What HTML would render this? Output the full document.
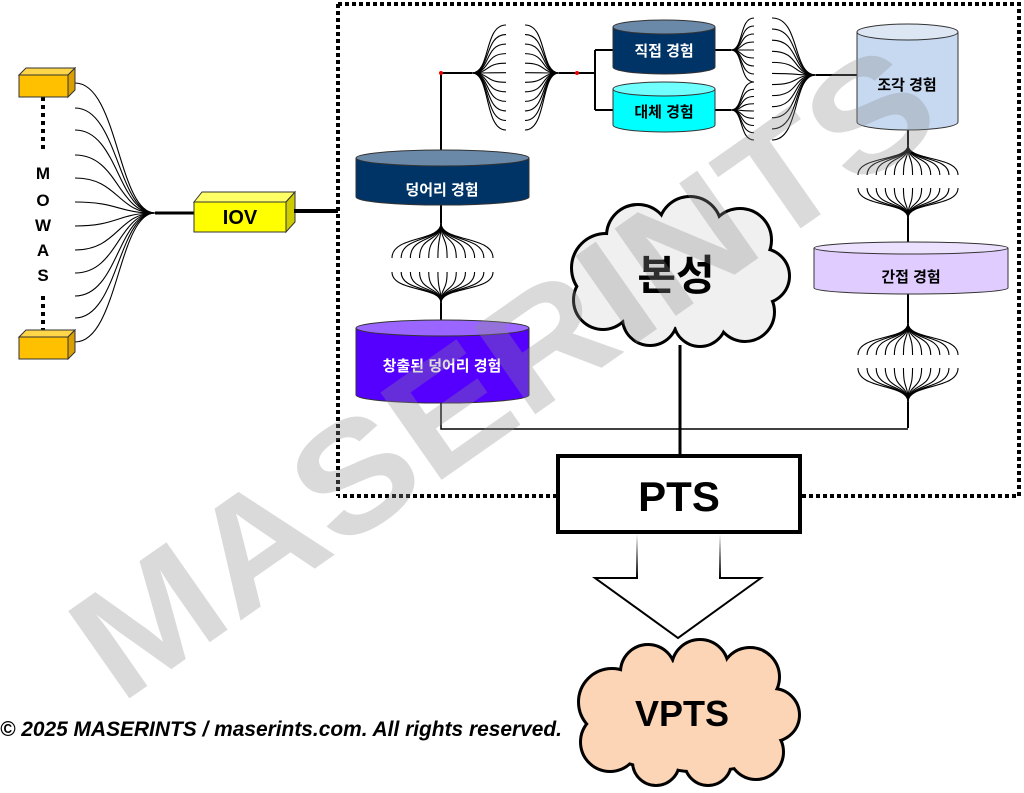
<!DOCTYPE html>
<html><head><meta charset="utf-8"><style>
html,body{margin:0;padding:0;background:#fff;}
svg{display:block;}
text{font-family:"Liberation Sans","Noto Sans CJK KR",sans-serif;font-weight:bold;}
</style></head><body>
<svg id="s" width="1024" height="793" viewBox="0 0 1024 793" xmlns="http://www.w3.org/2000/svg">
<path d="M338 4 H1019 V496 H800 M557 496 H338 Z" fill="none" stroke="#000" stroke-width="4" stroke-dasharray="4 3"/>
<path d="M338 4 V496" stroke="#000" stroke-width="4" stroke-dasharray="4 3"/>
<g id="fans" fill="none" stroke="#000" stroke-width="1.1"></g>

<path d="M43 97 V150 M43 296 V334" stroke="#000" stroke-width="4" stroke-dasharray="4 4"/>
<g font-size="17" text-anchor="middle" fill="#000">
<text x="43" y="179">M</text><text x="43" y="206">O</text><text x="43" y="231">W</text><text x="43" y="256">A</text><text x="43" y="281">S</text>
</g>
<g stroke="#333" stroke-width="1">
<polygon points="19,75 26,68 75,68 68,75" fill="#ffd54a"/>
<polygon points="68,75 75,68 75,90 68,97" fill="#d9a000"/>
<rect x="19" y="75" width="49" height="22" fill="#ffc000"/>
<polygon points="19,337 26,330 75,330 68,337" fill="#ffd54a"/>
<polygon points="68,337 75,330 75,352 68,359" fill="#d9a000"/>
<rect x="19" y="337" width="49" height="22" fill="#ffc000"/>
</g>
<path d="M155 213 H195" stroke="#000" stroke-width="3"/>
<g stroke="#333" stroke-width="1">
<polygon points="194,202 202,192 295,192 286,202" fill="#ffff66"/>
<polygon points="286,202 295,192 295,222 286,232" fill="#cccc00"/>
<rect x="194" y="202" width="92" height="30" fill="#ffff00"/>
</g>
<text x="240" y="224" font-size="20" text-anchor="middle">IOV</text>
<path d="M294 211 H338" stroke="#000" stroke-width="4"/>

<g fill="none" stroke="#000" stroke-width="2">
<path d="M441 158 V73 H472"/>
<path d="M559 73 H595 M595 50 V110 M595 50 H613 M595 110 H613"/>
<path d="M715 50 H731 M715 110 H731 M816 75 H857"/>
<path d="M441 205 V223 M441 303 V328 M908 130 V145 M908 218 V248 M908 292 V323 M908 402 V428"/>
<path d="M441 402 V429 H908" stroke-width="1.5"/>
</g>
<circle cx="441" cy="73" r="2" fill="#e00"/><circle cx="577" cy="73" r="2" fill="#e00"/>

<g stroke="#333" stroke-width="1">
<path d="M356 158 V197 A86 8 0 0 0 529 197 V158" fill="#003366"/>
<ellipse cx="442.5" cy="158" rx="86.5" ry="8" fill="#6a88a8"/>
<path d="M356 328 V395 A86 8 0 0 0 529 395 V328" fill="#5500ff"/>
<ellipse cx="442.5" cy="328" rx="86.5" ry="8" fill="#9a66ff"/>
<path d="M613 27 V67 A51 7 0 0 0 715 67 V27" fill="#003366"/>
<ellipse cx="664" cy="27" rx="51" ry="7" fill="#6a88a8"/>
<path d="M613 89 V125 A51 7 0 0 0 715 125 V89" fill="#00ffff"/>
<ellipse cx="664" cy="89" rx="51" ry="7" fill="#70ffff"/>
<path d="M857 32 V122 A50.5 8 0 0 0 958 122 V32" fill="#c6d9f1"/>
<ellipse cx="907.5" cy="32" rx="50.5" ry="8" fill="#dde7f4"/>
<path d="M814 248 V288 A97 6 0 0 0 1008 288 V248" fill="#e0ccff"/>
<ellipse cx="911" cy="248" rx="97" ry="6" fill="#ece0ff"/>
</g>
<g font-size="15" text-anchor="middle">
<text x="442" y="195" fill="#fff">덩어리 경험</text>
<text x="442" y="371" fill="#fff">창출된 덩어리 경험</text>
<text x="664" y="56" fill="#fff">직접 경험</text>
<text x="664" y="117" fill="#000">대체 경험</text>
<text x="907" y="90" fill="#000">조각 경험</text>
<text x="911" y="282" fill="#000">간접 경험</text>
</g>

<g id="c1"></g>
<text x="676" y="290" font-size="42" text-anchor="middle">본성</text>
<path d="M680 345 V456" stroke="#000" stroke-width="3"/>

<rect x="558" y="456" width="242" height="76" fill="#fff" stroke="#000" stroke-width="4"/>
<text x="679" y="511" font-size="42" text-anchor="middle">PTS</text>
<defs><linearGradient id="g" x1="0" y1="0" x2="0" y2="1"><stop offset="0" stop-color="#fff"/><stop offset="1" stop-color="#000"/></linearGradient></defs>
<path d="M637 534 V578 H595 L678 638 L761 578 H720 V534" fill="#fff" stroke="#000" stroke-width="2"/>
<path d="M637 534 V578 M720 534 V578" stroke="url(#g)" stroke-width="2"/>

<g id="c2"></g>
<text x="682" y="726" font-size="36" text-anchor="middle">VPTS</text>

<text x="0" y="736" font-size="21" font-style="italic" textLength="562" lengthAdjust="spacingAndGlyphs">© 2025 MASERINTS / maserints.com. All rights reserved.</text>

<text x="0" y="0" font-size="155" fill="rgba(140,140,140,0.32)" transform="translate(120,705) rotate(-35)" textLength="1010" lengthAdjust="spacingAndGlyphs">MASERINTS</text>
</svg>
<script>
var NS="http://www.w3.org/2000/svg";
var F=document.getElementById("fans");
function P(d){var p=document.createElementNS(NS,"path");p.setAttribute("d",d);F.appendChild(p);}
function hfan(cx,cy,ex,y0,y1,n){var d=ex-cx;for(var i=0;i<n;i++){var y=y0+(y1-y0)*i/(n-1);
P("M"+cx+" "+cy+" C"+(cx+0.55*d)+" "+cy+" "+(cx+0.35*d)+" "+y+" "+ex+" "+y);}}
function vfan(cx,cy,ey,x0,x1,n){var d=ey-cy;for(var i=0;i<n;i++){var x=x0+(x1-x0)*i/(n-1);
P("M"+cx+" "+cy+" C"+cx+" "+(cy+0.55*d)+" "+x+" "+(cy+0.35*d)+" "+x+" "+ey);}}
(function(){var ys=[83,108,130,155,178,202,226,250,273,296,318,342];
for(var i=0;i<ys.length;i++){var y=ys[i];P("M155 213 C118 213 118 "+y+" 75 "+y);}})();
hfan(472,73,506,25,130,12);
hfan(559,73,525,25,130,12);
hfan(731,50,754,18,82,9);
hfan(731,110,754,82,140,9);
hfan(816,75,772,18,140,12);
vfan(441,223,258,392,493,12);
vfan(441,303,272,392,493,12);
vfan(908,145,175,858,958,12);
vfan(908,218,188,858,958,12);
vfan(908,323,355,858,958,12);
vfan(908,402,368,858,958,12);
function cloud(id,cs,fill){var g=document.getElementById(id);
cs.forEach(function(c){var e=document.createElementNS(NS,"circle");e.setAttribute("cx",c[0]);e.setAttribute("cy",c[1]);e.setAttribute("r",c[2]);e.setAttribute("fill","#000");e.setAttribute("stroke","#000");e.setAttribute("stroke-width","6");g.appendChild(e);});
cs.forEach(function(c){var e=document.createElementNS(NS,"circle");e.setAttribute("cx",c[0]);e.setAttribute("cy",c[1]);e.setAttribute("r",c[2]);e.setAttribute("fill",fill);g.appendChild(e);});}
cloud("c1",[[606,268,33],[638,236,30],[690,228,30],[740,240,30],[762,276,26],[745,312,28],[700,320,25],[650,318,26],[603,300,28],[680,275,52],[715,280,50],[645,280,45]],"#f0f0f0");
cloud("c2",[[612,702,32],[648,672,26],[700,668,27],[750,677,28],[773,715,25],[756,752,26],[708,762,22],[656,762,22],[610,742,28],[690,715,55],[725,720,48],[645,720,45]],"#fbd5b5");
</script>
</body></html>
